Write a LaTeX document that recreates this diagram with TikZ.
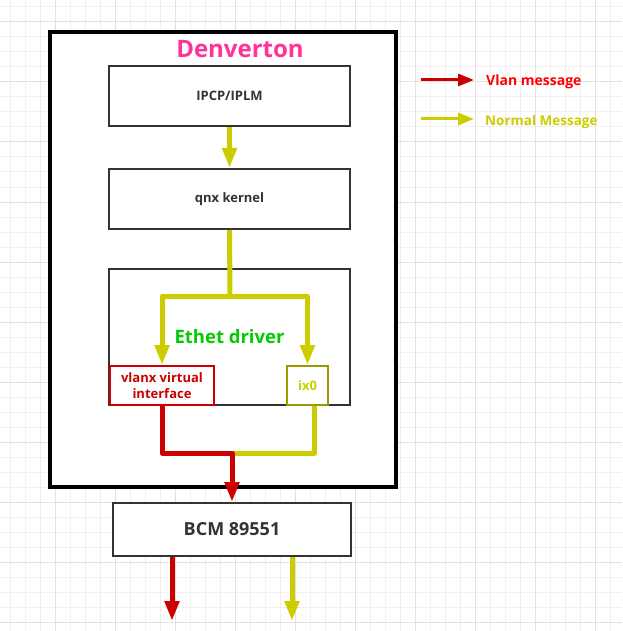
\documentclass[tikz,border=0pt]{standalone}
\usepackage{fontspec}
\setmainfont{Open Sans}
\usetikzlibrary{positioning, calc, arrows.meta}
\usepackage{xcolor}
\definecolor{xred}{HTML}{CC0000}
\definecolor{xlegred}{HTML}{FF0000}
\definecolor{xyellow}{HTML}{CCCC00}
\definecolor{xolive}{HTML}{999900}
\definecolor{xpink}{HTML}{FF3399}
\definecolor{xgreen}{HTML}{00CC00}
\definecolor{xtext}{HTML}{333333}
\definecolor{gridminor}{HTML}{F0F0F0}
\definecolor{gridmajor}{HTML}{E2E2E2}
\tikzset{
	layerbox/.style={draw=xtext, line width=2pt, fill=white, inner sep=0pt, text=xtext, font=\fontsize{13}{16}\selectfont\bfseries},
	portbox/.style={line width=2pt, fill=white, inner sep=0pt, minimum height=39pt, align=center, font=\fontsize{13}{16}\selectfont\bfseries},
	yarrow/.style={draw=xyellow, line width=5pt, line join=round, -{Triangle[length=20pt, width=14pt]}},
	rarrow/.style={draw=xred, line width=5pt, line join=round, -{Triangle[length=20pt, width=14pt]}},
	yline/.style={draw=xyellow, line width=5pt, line join=round},
	legarrow/.style={line width=3pt, -{Triangle[length=16pt, width=12pt]}, shorten >=12pt},
	minorline/.style={draw=gridminor, line width=1pt},
	majorline/.style={draw=gridmajor, line width=1pt},
}

\begin{document}
\begin{tikzpicture}[x=1pt, y=-1pt]
		\useasboundingbox (0,0) rectangle (622,631);
		% Grid
		\fill[white] (0,0) rectangle (622,631);
		\foreach \gx in {10,25,...,610} \draw[minorline] (\gx,0) -- (\gx,631);
		\foreach \gy in {7,22,...,622} \draw[minorline] (0,\gy) -- (622,\gy);
		\foreach \gx in {55,115,...,595} \draw[majorline] (\gx,0) -- (\gx,631);
		\foreach \gy in {22,82,...,622} \draw[majorline] (0,\gy) -- (622,\gy);

		% Denverton
		\node[draw=black, line width=4pt, fill=white, inner sep=0pt, minimum width=346pt, minimum height=455pt] (denverton) at (223,259.5) {};
		\node[text=xpink, font=\fontsize{24}{28}\selectfont\bfseries] (title) at (240,49) {Denverton};

		\node[layerbox, minimum width=241pt, minimum height=60pt] (ipcp) at (229.5,96) {IPCP/IPLM};
		\node[layerbox, minimum width=241pt, minimum height=60pt] (qnx) at (229.5,199) {qnx kernel};
		\node[layerbox, minimum width=241pt, minimum height=136pt, text=xgreen, font=\fontsize{18.5}{22}\selectfont\bfseries] (ethet) at (229.5,337) {Ethet driver};

		\node[portbox, draw=xred, text=xred, minimum width=104pt] (vlanx) at (162,385.5) {vlanx virtual\\interface};
		\node[portbox, draw=xolive, text=xyellow, minimum width=41pt] (ixzero) at (307.5,385.5) {ix0};

		% BCM
		\node[layerbox, minimum width=238pt, minimum height=53pt, font=\fontsize{18}{22}\selectfont\bfseries] (bcm) at (232,529.5) {BCM 89551};

		\coordinate (split) at (230,296.5);
		\coordinate (merge) at (232,453);
		\coordinate (redout) at (172,621);
		\coordinate (yellowout) at (292,621);

		\draw[yarrow] (ipcp) -- (qnx);
		\draw[yline] (qnx.south) -- (split);
		\draw[yarrow] (split) -| (vlanx.north);
		\draw[yarrow] (split) -| (ixzero.north);

		\draw[yline] ([xshift=6.5pt]ixzero.south) |- (merge);
		\draw[rarrow] (vlanx.south) |- (merge) -- (bcm.north);

		\draw[rarrow] (bcm.south -| redout) -- (redout);
		\draw[yarrow] (bcm.south -| yellowout) -- (yellowout);

		% Legend
		\node[anchor=west, inner sep=0pt, text=xlegred, font=\fontsize{14}{17}\selectfont\bfseries] (vlanmsg) at (486,82) {Vlan message};
		\node[anchor=west, inner sep=0pt, text=xyellow, font=\fontsize{13.5}{17}\selectfont\bfseries] (normalmsg) at (485,122) {Normal Message};
		\coordinate (vlanstart) at (421,80);
		\coordinate (normalstart) at (421,119);
		\draw[legarrow, draw=xred] (vlanstart) -- (vlanstart -| vlanmsg.west);
		\draw[legarrow, draw=xyellow] (normalstart) -- (normalstart -| vlanmsg.west);
	\end{tikzpicture}
\end{document}
